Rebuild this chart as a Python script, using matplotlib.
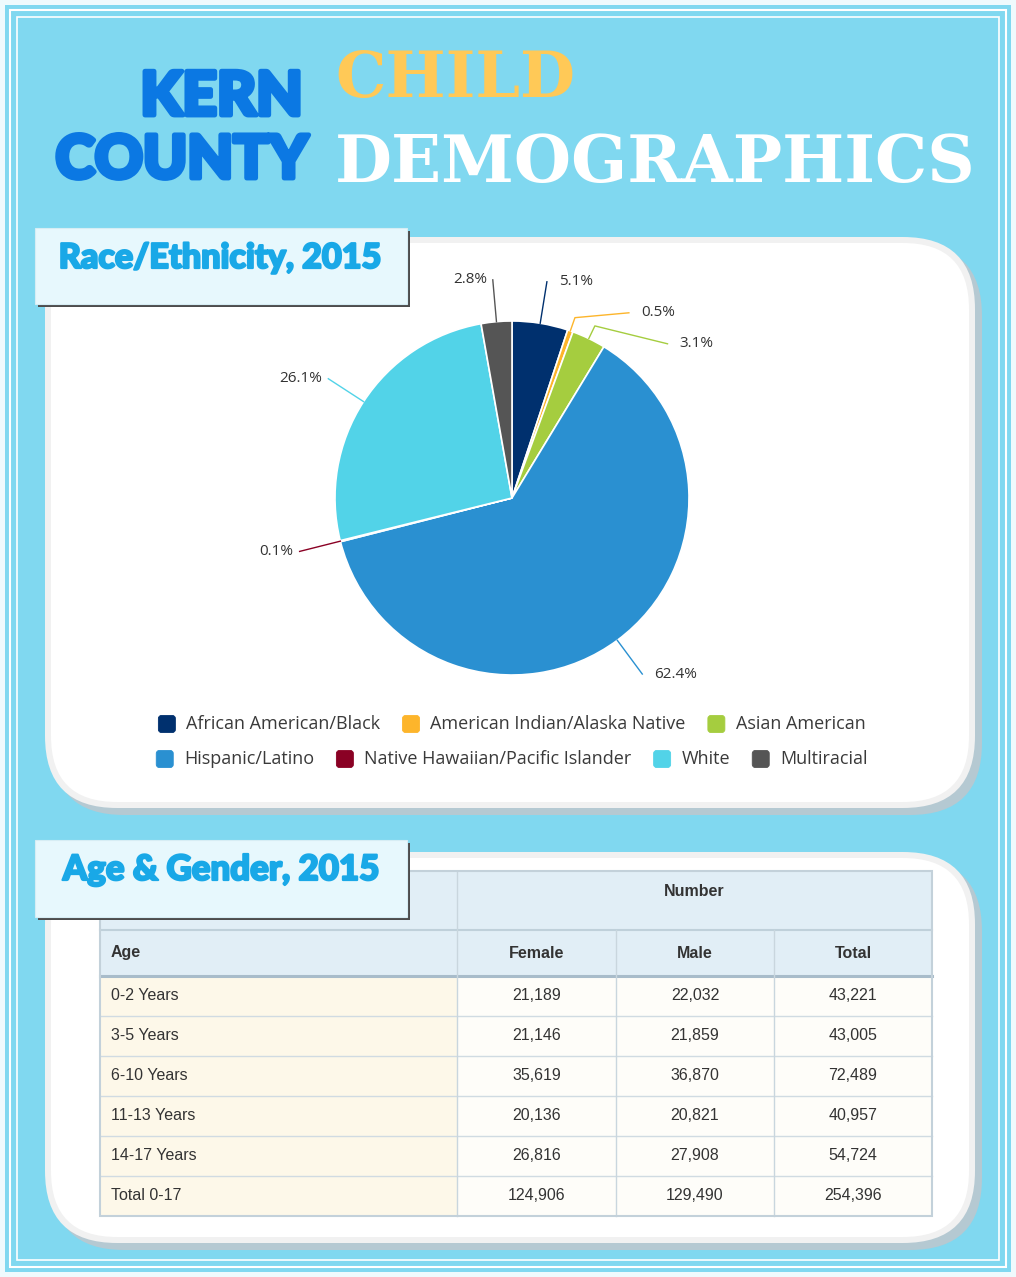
import numpy as np
import matplotlib
matplotlib.use('Agg')
import matplotlib.pyplot as plt
import matplotlib.patheffects as pe
from matplotlib.patches import Rectangle, FancyBboxPatch

W, H = 1016, 1277

groups = ['African American/Black', 'American Indian/Alaska Native', 'Asian American',
          'Hispanic/Latino', 'Native Hawaiian/Pacific Islander', 'White', 'Multiracial']
shares = [5.1, 0.5, 3.1, 62.4, 0.1, 26.1, 2.8]
colors = ['#00306E', '#FDB52B', '#A5CD3F', '#2A90D1', '#8A0124', '#52D3E8', '#555555']

ages = ['0-2 Years', '3-5 Years', '6-10 Years', '11-13 Years', '14-17 Years', 'Total 0-17']
female = [21189, 21146, 35619, 20136, 26816, 124906]
male = [22032, 21859, 36870, 20821, 27908, 129490]
total = [43221, 43005, 72489, 40957, 54724, 254396]
col_heads = ['Female', 'Male', 'Total']

fig = plt.figure(figsize=(W / 100, H / 100), dpi=100)
fig.patch.set_facecolor('#EFFAFD')
ax = fig.add_axes([0, 0, 1, 1])
renderer = fig.canvas.get_renderer()

# background + double white frame
ax.add_patch(Rectangle((5, 5), W - 10, H - 10, fc='#80D8F0', ec='none', zorder=0))
ax.add_patch(Rectangle((10, 10), W - 20, H - 20, fill=False, ec='white', lw=1.5, zorder=0.5))
ax.add_patch(Rectangle((17, 17), W - 34, H - 34, fill=False, ec='white', lw=1.2, zorder=0.5))


def panel(x0, y0, x1, y1):
    ax.add_patch(FancyBboxPatch((x0 + 7, y0 + 7), x1 - x0, y1 - y0, fc='#B5C9D2', ec='none',
                                boxstyle='round,pad=0,rounding_size=72', zorder=1))
    ax.add_patch(FancyBboxPatch((x0, y0), x1 - x0, y1 - y0, fc='#F1F1F1', ec='none',
                                boxstyle='round,pad=0,rounding_size=72', zorder=2))
    ax.add_patch(FancyBboxPatch((x0 + 6, y0 + 6), x1 - x0 - 12, y1 - y0 - 12, fc='white', ec='none',
                                boxstyle='round,pad=0,rounding_size=66', zorder=2.1))


def header(x0, y0, x1, y1):
    ax.add_patch(Rectangle((x0 + 3, y0 + 3), x1 - x0, y1 - y0, fc='#4D4D4D', ec='none', zorder=6))
    ax.add_patch(Rectangle((x0, y0), x1 - x0, y1 - y0, fc='#E7F8FD', ec='#D6EDF4', lw=0.8, zorder=6.1))


def fit_text(x, y, s, width, ha, stroke=0, **kw):
    t = ax.text(x, y, s, ha=ha, va='baseline', fontsize=40, zorder=7, **kw)
    w = t.get_window_extent(renderer).width
    t.set_fontsize(t.get_fontsize() * (width - stroke) / w)
    if stroke:
        t.set_path_effects([pe.withStroke(linewidth=stroke, foreground=kw['color'])])
    return t


ax.set_xlim(0, W)
ax.set_ylim(H, 0)

panel(45, 237, 975, 808)
panel(45, 852, 975, 1243)

# titles
title_kw = dict(family=['Lato', 'DejaVu Sans'], weight='black', color='#0B78E3')
fit_text(303, 115, 'KERN', 166, 'right', stroke=3.5, **title_kw)
fit_text(308, 178, 'COUNTY', 256, 'right', stroke=3.5, **title_kw)
fit_text(335, 97, 'CHILD', 240, 'left', family='DejaVu Serif', weight='bold', color='#FFC957')
fit_text(335, 182, 'DEMOGRAPHICS', 640, 'left', family='DejaVu Serif', weight='bold', color='white')

# pie
cx, cy, r = 512, 498, 177
wedges, _ = ax.pie(shares, colors=colors, center=(cx, cy), radius=r, startangle=-90,
                   counterclock=True, frame=True,
                   wedgeprops=dict(edgecolor='white', linewidth=1.2, zorder=3))

rl = r + 42
info = []
for w, s, c in zip(wedges, shares, colors):
    a = np.deg2rad((w.theta1 + w.theta2) / 2)
    info.append([a, s, c, cy + rl * np.sin(a)])
right = sorted([i for i in info if np.cos(i[0]) > 0], key=lambda i: i[3])
for prev, cur in zip(right, right[1:]):
    cur[3] = max(cur[3], prev[3] + 31)

for a, s, c, ly in info:
    side = 1 if np.cos(a) > 0 else -1
    dy = ly - cy
    lx = cx + side * np.sqrt(max(rl ** 2 - dy ** 2, 0))
    xs = [cx + r * np.cos(a), cx + (r + 14) * np.cos(a), lx]
    ys = [cy + r * np.sin(a), cy + (r + 14) * np.sin(a), ly]
    ax.plot(xs, ys, color=c, lw=1, zorder=3)
    ax.text(lx + (12 if side > 0 else -6), ly, f'{s}%', ha='left' if side > 0 else 'right',
            va='center', fontsize=11, family=['Open Sans', 'DejaVu Sans'], color='#333333', zorder=4)

# legend, rows centred under the pie
for row, ly in zip([[0, 1, 2], [3, 4, 5, 6]], [724, 759]):
    items = []
    for i in row:
        t = ax.text(0, ly, groups[i], fontsize=13, family=['Open Sans', 'DejaVu Sans'],
                    color='#3A3A3A', va='center', ha='left', zorder=5)
        items.append((i, t, t.get_window_extent(renderer).width))
    row_w = sum(28 + wd for _, _, wd in items) + 22 * (len(items) - 1)
    x = cx - row_w / 2
    for i, t, wd in items:
        ax.add_patch(FancyBboxPatch((x, ly - 8.5), 17, 17, boxstyle='round,pad=0,rounding_size=3',
                                    fc=colors[i], ec=colors[i], lw=0.6, zorder=5))
        t.set_x(x + 28)
        x += 28 + wd + 22

# table
col_x = [100, 457, 616, 774, 932]
top, split, head_bot, row_h = 871, 930, 976, 40
bottom = head_bot + row_h * len(ages)
ax.add_patch(Rectangle((col_x[0], top), col_x[-1] - col_x[0], head_bot - top, fc='#E1EEF6', ec='none', zorder=3))
for j in range(len(ages)):
    y0 = head_bot + j * row_h
    ax.add_patch(Rectangle((col_x[0], y0), col_x[1] - col_x[0], row_h, fc='#FDF8E9', ec='none', zorder=3))
    ax.add_patch(Rectangle((col_x[1], y0), col_x[-1] - col_x[1], row_h, fc='#FEFDF9', ec='none', zorder=3))
    if j > 0:
        ax.plot([col_x[0], col_x[-1]], [y0, y0], color='#D0DBE2', lw=1, zorder=3.5)
ax.plot([col_x[0], col_x[-1]], [split, split], color='#BFD0DA', lw=1.5, zorder=3.5)
ax.plot([col_x[0], col_x[-1]], [head_bot, head_bot], color='#A8BCCA', lw=2.2, zorder=3.5)
ax.plot([col_x[1], col_x[1]], [top, bottom], color='#C9D6DE', lw=1, zorder=3.5)
for xv in col_x[2:-1]:
    ax.plot([xv, xv], [split, bottom], color='#C9D6DE', lw=1, zorder=3.5)
ax.add_patch(Rectangle((col_x[0], top), col_x[-1] - col_x[0], bottom - top, fill=False,
                       ec='#C3D1DA', lw=1.5, zorder=3.6))

tkw = dict(family=['Liberation Sans', 'DejaVu Sans'], fontsize=11.5, color='#333333', va='center', zorder=4)
ax.text((col_x[1] + col_x[-1]) / 2, 892, 'Number', ha='center', weight='bold', **tkw)
ax.text(col_x[0] + 11, (split + head_bot) / 2, 'Age', ha='left', weight='bold', **tkw)
for k, name in enumerate(col_heads):
    ax.text((col_x[k + 1] + col_x[k + 2]) / 2, (split + head_bot) / 2, name, ha='center', weight='bold', **tkw)
for j, (age, f, m, tt) in enumerate(zip(ages, female, male, total)):
    yc = head_bot + j * row_h + row_h / 2
    ax.text(col_x[0] + 11, yc, age, ha='left', **tkw)
    for k, v in enumerate([f, m, tt]):
        ax.text((col_x[k + 1] + col_x[k + 2]) / 2, yc, f'{v:,}', ha='center', **tkw)

# section headers
header(35, 228, 407, 304)
header(35, 840, 407, 917)
sec_kw = dict(family=['Lato', 'DejaVu Sans'], weight='black', color='#19A8E7')
fit_text(220, 268, 'Race/Ethnicity, 2015', 324, 'center', stroke=1.6, **sec_kw)
fit_text(221, 880, 'Age & Gender, 2015', 318, 'center', stroke=1.6, **sec_kw)

ax.set_xlim(0, W)
ax.set_ylim(H, 0)
ax.axis('off')
fig.savefig('out.png', dpi=100)
